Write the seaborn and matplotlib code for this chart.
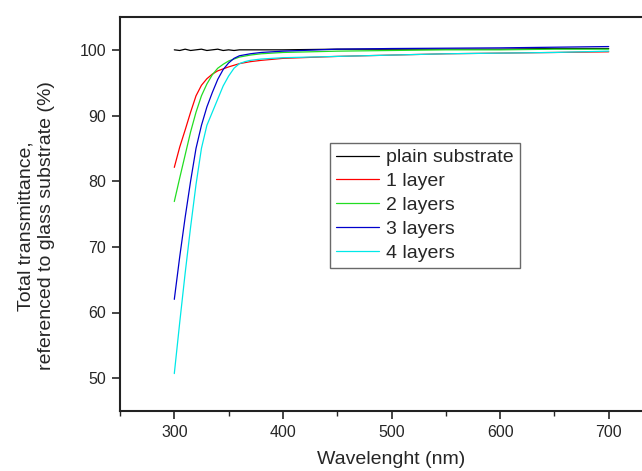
import matplotlib
matplotlib.use("Agg")
import matplotlib.pyplot as plt
import seaborn as sns
import pandas as pd
from matplotlib.ticker import MultipleLocator

sns.set_style("ticks")
plt.rcParams['font.family'] = ['Liberation Sans', 'DejaVu Sans']

wl_plain = [300, 305, 310, 315, 320, 325, 330, 335, 340, 345, 350, 355, 360, 380, 400, 450, 500, 550, 600, 650, 700]
t_plain = [100.0, 99.9, 100.1, 99.9, 100.0, 100.1, 99.9, 100.0, 100.1, 99.9, 100.0, 99.9, 100.0, 100.0, 100.0, 100.1, 100.1, 100.1, 100.1, 100.2, 100.2]

wl_1 = [300, 305, 310, 315, 320, 325, 330, 335, 340, 345, 350, 360, 370, 380, 400, 450, 500, 550, 600, 650, 700]
t_1 = [82.1, 85.2, 87.8, 90.5, 93.0, 94.6, 95.6, 96.3, 96.8, 97.1, 97.4, 97.9, 98.2, 98.4, 98.7, 99.0, 99.2, 99.4, 99.5, 99.6, 99.7]

wl_2 = [300, 305, 310, 315, 320, 325, 330, 335, 340, 345, 350, 360, 370, 380, 400, 450, 500, 550, 600, 650, 700]
t_2 = [76.9, 80.5, 84.0, 87.5, 90.5, 93.0, 94.8, 96.2, 97.2, 97.8, 98.3, 98.9, 99.2, 99.4, 99.6, 99.8, 99.9, 100.0, 100.0, 100.1, 100.1]

wl_3 = [300, 305, 310, 315, 320, 325, 330, 335, 340, 345, 350, 355, 360, 370, 380, 400, 450, 500, 600, 700]
t_3 = [62.0, 68.5, 74.5, 80.0, 85.0, 88.5, 91.3, 93.5, 95.5, 97.0, 98.0, 98.7, 99.1, 99.4, 99.6, 99.8, 100.1, 100.2, 100.3, 100.5]

wl_4 = [300, 305, 310, 315, 320, 325, 330, 335, 340, 345, 350, 355, 360, 365, 370, 380, 400, 450, 500, 550, 600, 650, 700]
t_4 = [50.7, 58.5, 66.0, 73.0, 79.5, 85.0, 88.5, 90.5, 92.5, 94.5, 96.0, 97.2, 97.9, 98.2, 98.4, 98.6, 98.8, 99.0, 99.2, 99.4, 99.5, 99.6, 99.8]

labels = ["plain substrate", "1 layer", "2 layers", "3 layers", "4 layers"]
colors = ["#000000", "#ff0000", "#22dd22", "#0000cc", "#00e8e8"]

series = [(wl_plain, t_plain), (wl_1, t_1), (wl_2, t_2), (wl_3, t_3), (wl_4, t_4)]

fig = plt.figure(figsize=(6.42, 4.71), dpi=100)
ax = fig.add_axes([120/642, 60/471, 543/642, 394/471])

for (x, y), lab, c in zip(series, labels, colors):
    df = pd.DataFrame({"wl": x, "T": y})
    sns.lineplot(data=df, x="wl", y="T", ax=ax, color=c, label=lab, linewidth=0.9)

ax.set_xlim(250, 750)
ax.set_ylim(45, 105)
ax.set_xticks([300, 400, 500, 600, 700])
ax.xaxis.set_minor_locator(MultipleLocator(50))
ax.set_yticks([50, 60, 70, 80, 90, 100])
ax.tick_params(axis='both', which='major', direction='out', length=6, width=1.2,
               labelsize=11.5, pad=4)
ax.tick_params(axis='x', which='minor', direction='out', length=3.5, width=1.0)
for s in ax.spines.values():
    s.set_linewidth(1.5)
    s.set_color("#222222")

ax.set_xlabel("Wavelenght (nm)", fontsize=14, labelpad=8)
ax.set_ylabel("Total transmittance,\nreferenced to glass substrate (%)", fontsize=14,
              linespacing=1.25)
ax.yaxis.set_label_coords((55-120)/543, 0.47)

leg = ax.legend(loc="upper left", bbox_to_anchor=(330/642, 1-143/471), bbox_transform=fig.transFigure,
                borderaxespad=0, frameon=True, fancybox=False, fontsize=14, handlelength=2.2,
                handletextpad=0.4, labelspacing=0.32, borderpad=0.3)
leg.get_frame().set_edgecolor("#444444")
leg.get_frame().set_linewidth(1.0)

fig.savefig("out.png", dpi=100)
